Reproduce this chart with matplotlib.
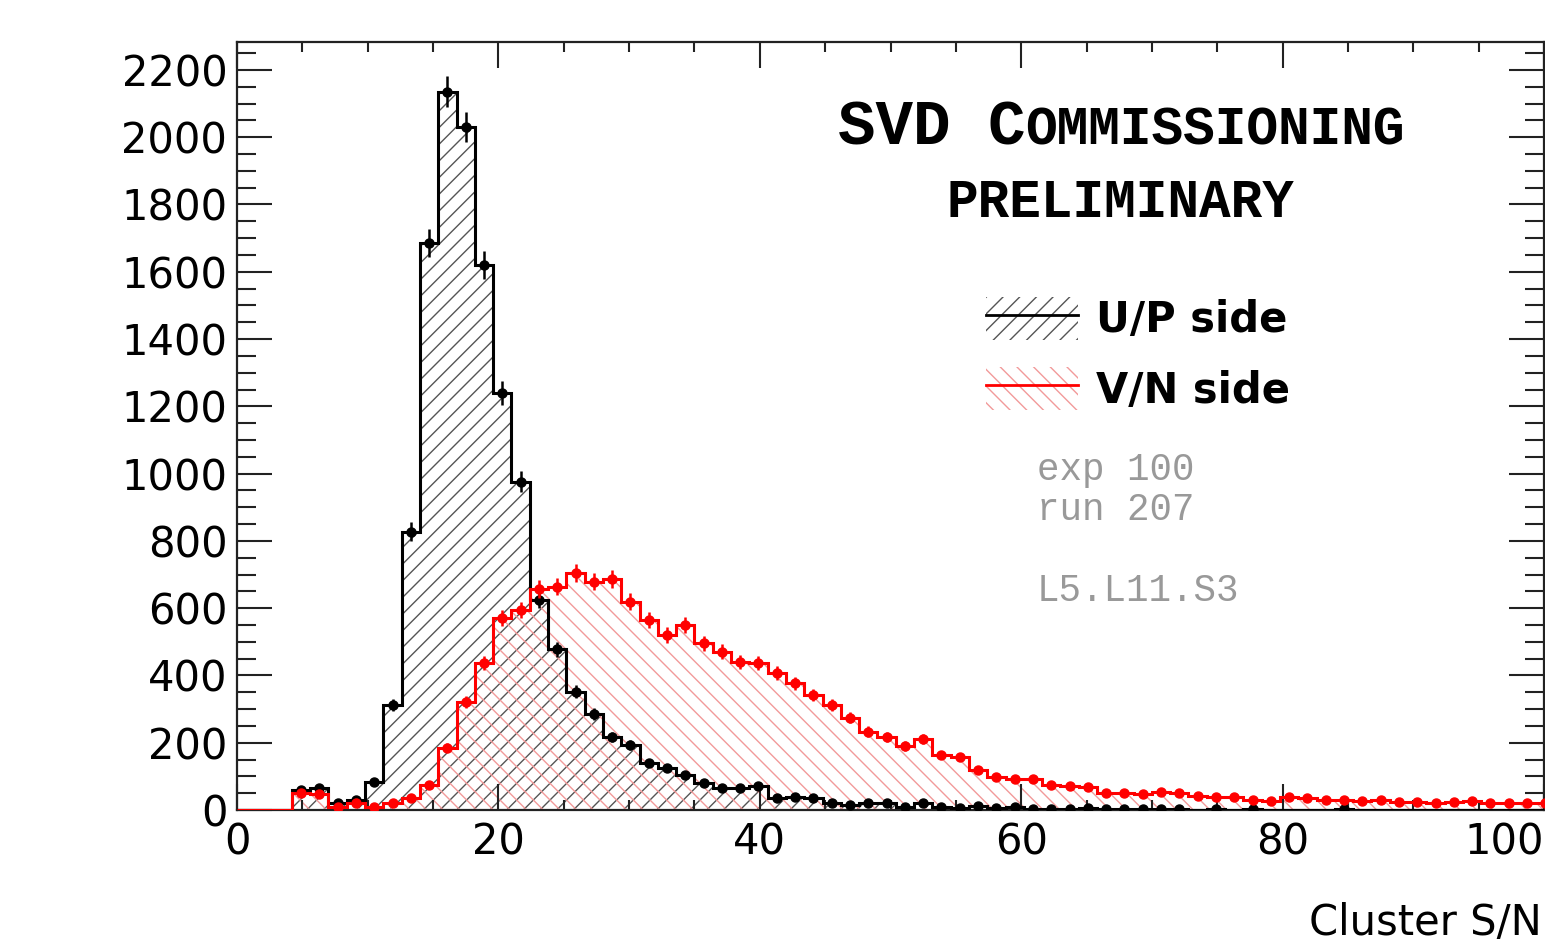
import matplotlib as mpl
mpl.use('agg')

import matplotlib.pyplot as plt
import numpy as np
from matplotlib.patches import Patch
from matplotlib.lines import Line2D
from matplotlib.ticker import MultipleLocator

# cluster S/N histograms, 1.4 wide bins starting at 0
bin_width = 1.4

up_counts = [0, 0, 0, 59, 65, 20, 30, 84, 312, 827,
             1685, 2135, 2031, 1620, 1240, 976, 624, 478, 352, 285,
             218, 193, 140, 125, 104, 80, 65, 65, 70, 36,
             40, 36, 20, 15, 20, 22, 10, 20, 10, 6,
             12, 6, 10, 3, 3, 3, 5, 3, 3, 3,
             3, 3, 0, 3, 0, 3, 0, 0, 0, 0,
             3, 0, 0, 0, 0, 0, 0, 0, 0, 0,
             0, 0]

vn_counts = [0, 0, 0, 50, 48, 10, 20, 10, 20, 35,
             75, 185, 322, 436, 570, 595, 657, 664, 704, 679,
             686, 619, 565, 520, 550, 496, 471, 441, 436, 407,
             377, 342, 312, 274, 233, 218, 190, 211, 163, 158,
             119, 99, 92, 92, 74, 71, 69, 50, 51, 48,
             54, 50, 41, 38, 39, 30, 28, 38, 35, 30,
             30, 28, 30, 25, 25, 20, 25, 28, 22, 20,
             20, 20]

x_ticks = [0, 20, 40, 60, 80, 100]
labels = ['U/P side', 'V/N side']
info_lines = ['exp 100', 'run 207', '', 'L5.L11.S3']


def draw_hist(ax, counts, edges, line_col, hatch_col, hatch, z):
    counts = np.array(counts, dtype=float)
    centres = edges[:-1] + bin_width / 2
    ax.stairs(counts, edges, fill=True, hatch=hatch, facecolor='none',
              edgecolor=hatch_col, linewidth=0, zorder=z)
    ax.stairs(counts, edges, color=line_col, linewidth=2.2, zorder=z + 2)
    m = counts > 0
    ax.errorbar(centres[m], counts[m], yerr=np.sqrt(counts[m]), fmt='o',
                ms=6.5, color=line_col, elinewidth=1.8, capsize=0,
                zorder=z + 3)


fig = plt.figure(figsize=(15.45, 9.42), dpi=100)
ax = fig.add_axes([237 / 1545, 132 / 942, 1307 / 1545, 768 / 942])

edges = bin_width * np.arange(len(up_counts) + 1)
draw_hist(ax, up_counts, edges, 'black', '#555555', '//', 1)
draw_hist(ax, vn_counts, edges, 'red', '#f29a9a', '\\\\', 1.1)

ax.set_xlim(0, 100)
ax.set_ylim(0, 2283)
ax.set_xticks(x_ticks)
ax.xaxis.set_minor_locator(MultipleLocator(5))
ax.yaxis.set_major_locator(MultipleLocator(200))
ax.yaxis.set_minor_locator(MultipleLocator(50))

ax.tick_params(which='both', direction='in', top=True, right=True,
               color='#222222', width=1.5)
ax.tick_params(axis='x', which='major', length=19, pad=8, labelsize=30)
ax.tick_params(axis='x', which='minor', length=7)
ax.tick_params(axis='y', which='major', length=25, pad=7, labelsize=30)
ax.tick_params(axis='y', which='minor', length=14)
for sp in ax.spines.values():
    sp.set_linewidth(1.6)
    sp.set_color('#222222')

# last x label sits on the figure edge, keep it inside
ax.get_xticklabels()[-1].set_horizontalalignment('right')

ax.set_xlabel('Cluster S/N', fontsize=30, ha='right')
ax.xaxis.set_label_coords(0.998, -0.12)

# legend: hatched box with line across
h_up = (Patch(facecolor='white', edgecolor='#555555', hatch='//', linewidth=0),
        Line2D([], [], color='black', lw=2))
h_vn = (Patch(facecolor='white', edgecolor='#f29a9a', hatch='\\\\', linewidth=0),
        Line2D([], [], color='red', lw=2))
ax.legend([h_up, h_vn], labels, loc='upper left', bbox_to_anchor=(0.573, 0.668),
          frameon=False, prop={'family': 'DejaVu Sans', 'weight': 'bold', 'size': 30},
          handlelength=2.2, handleheight=1.2, handletextpad=0.45,
          labelspacing=0.62, borderpad=0, borderaxespad=0)

# SVD COMMISSIONING in faked small caps
big, small = 45, 38
total = 0.6 * (5 * big + 12 * small)
ax.annotate('SVD C', xy=(0.677, 0.866), xycoords='axes fraction',
            xytext=(-total / 2, 0), textcoords='offset points',
            ha='left', va='baseline', family='Liberation Mono',
            weight='bold', fontsize=big)
ax.annotate('OMMISSIONING', xy=(0.677, 0.866), xycoords='axes fraction',
            xytext=(-total / 2 + 0.6 * 5 * big, 0), textcoords='offset points',
            ha='left', va='baseline', family='Liberation Mono',
            weight='bold', fontsize=small)
ax.text(0.676, 0.772, 'PRELIMINARY', transform=ax.transAxes, ha='center',
        va='baseline', family='Liberation Mono', weight='bold', fontsize=small)

ax.text(0.612, 0.466, '\n'.join(info_lines), transform=ax.transAxes,
        ha='left', va='top', family='Liberation Mono', fontsize=27,
        color='#999999', linespacing=1.15)

fig.savefig('out.png', dpi=100)
